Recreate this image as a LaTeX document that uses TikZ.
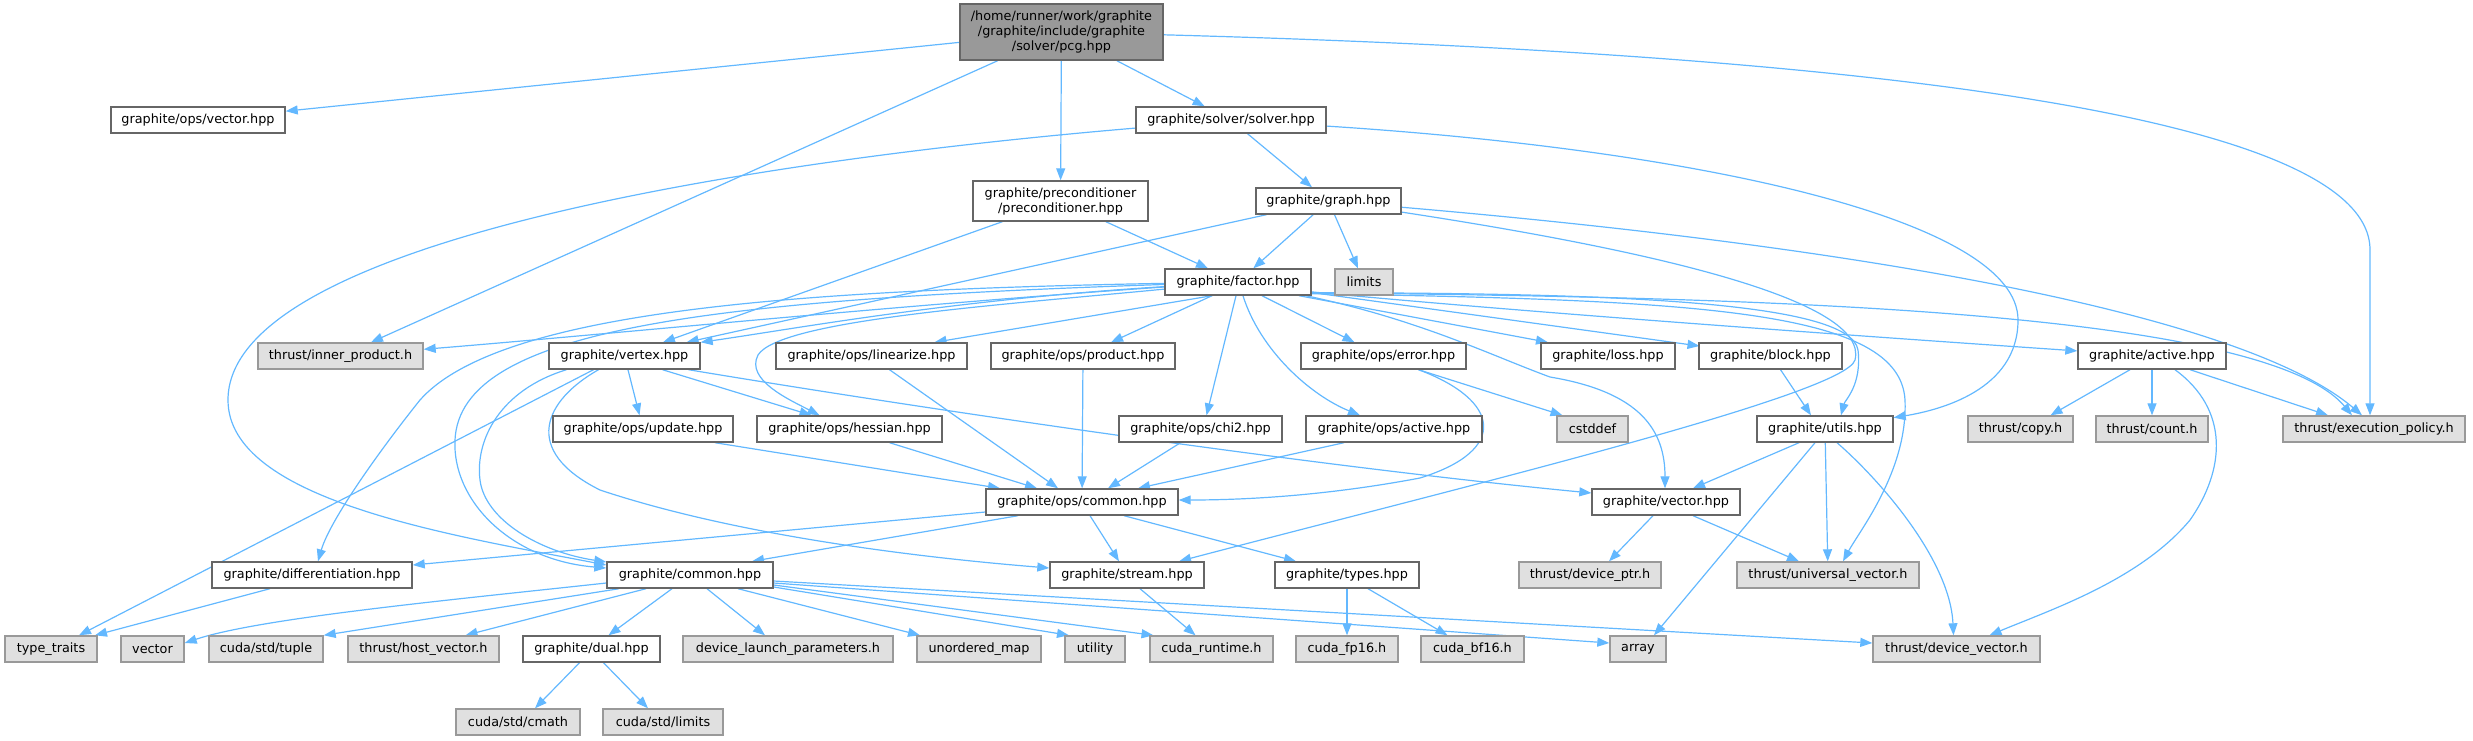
\documentclass[tikz,border=0pt]{standalone}
\usepackage{fontspec}
\setmainfont{DejaVu Sans}
\usetikzlibrary{arrows.meta}
\pgfdeclarelayer{bg}
\pgfsetlayers{bg,main}
\definecolor{edgec}{HTML}{63B8FF}
\definecolor{bordc}{HTML}{666666}
\definecolor{extfill}{HTML}{E0E0E0}
\definecolor{extbord}{HTML}{999999}
\definecolor{rootfill}{HTML}{999999}
\tikzset{
  wnode/.style={draw=bordc, line width=1.4pt, fill=white, inner sep=0pt, minimum height=26pt,
    font=\fontsize{12.8}{15}\selectfont, text=black, align=center},
  ext/.style={wnode, draw=extbord, fill=extfill},
  root/.style={wnode, fill=rootfill},
  edge/.style={draw=edgec, line width=1.2pt, -{Triangle[length=12pt,width=9pt]}},
}
\begin{document}
\begin{tikzpicture}[x=1pt,y={(0pt,-1pt)}]
\useasboundingbox (0,0) rectangle (2473,740);
% row 0
\node[root, minimum width=203pt, minimum height=56pt] (pcg) at (1061.5,32) {/home/runner/work/graphite\\/graphite/include/graphite\\/solver/pcg.hpp};
% row 1
\node[wnode, minimum width=174pt] (opsvector) at (198,120) {graphite/ops/vector.hpp};
\node[wnode, minimum width=190pt] (solver) at (1231,120) {graphite/solver/solver.hpp};
% row 2
\node[wnode, minimum width=175pt, minimum height=40pt] (precond) at (1060.5,201) {graphite/preconditioner\\/preconditioner.hpp};
\node[wnode, minimum width=145pt] (graph) at (1328.5,201) {graphite/graph.hpp};
% row 3
\node[wnode, minimum width=146pt] (factor) at (1238,282) {graphite/factor.hpp};
\node[ext, minimum width=58pt] (limits) at (1364,282) {limits};
% row 4
\node[ext, minimum width=165pt] (innerprod) at (340.5,356) {thrust/inner\_product.h};
\node[wnode, minimum width=151pt] (vertex) at (624.5,356) {graphite/vertex.hpp};
\node[wnode, minimum width=191pt] (linearize) at (871.5,356) {graphite/ops/linearize.hpp};
\node[wnode, minimum width=184pt] (product) at (1083,356) {graphite/ops/product.hpp};
\node[wnode, minimum width=165pt] (error) at (1383.5,356) {graphite/ops/error.hpp};
\node[wnode, minimum width=134pt] (loss) at (1608,356) {graphite/loss.hpp};
\node[wnode, minimum width=143pt] (block) at (1770.5,356) {graphite/block.hpp};
\node[wnode, minimum width=148pt] (active) at (2152,356) {graphite/active.hpp};
% row 5
\node[wnode, minimum width=180pt] (update) at (643,429) {graphite/ops/update.hpp};
\node[wnode, minimum width=185pt] (hessian) at (849.5,429) {graphite/ops/hessian.hpp};
\node[wnode, minimum width=163pt] (chi2) at (1200.5,429) {graphite/ops/chi2.hpp};
\node[wnode, minimum width=176pt] (opsactive) at (1394,429) {graphite/ops/active.hpp};
\node[ext, minimum width=71pt] (cstddef) at (1592.5,429) {cstddef};
\node[wnode, minimum width=136pt] (utils) at (1825,429) {graphite/utils.hpp};
\node[ext, minimum width=105pt] (copy) at (2020.5,429) {thrust/copy.h};
\node[ext, minimum width=112pt] (count) at (2152,429) {thrust/count.h};
\node[ext, minimum width=182pt] (execpol) at (2374,429) {thrust/execution\_policy.h};
% row 6
\node[wnode, minimum width=192pt] (opscommon) at (1082,502) {graphite/ops/common.hpp};
\node[wnode, minimum width=148pt] (gvector) at (1666,502) {graphite/vector.hpp};
% row 7
\node[wnode, minimum width=200pt] (diff) at (312,575) {graphite/differentiation.hpp};
\node[wnode, minimum width=166pt] (common) at (690,575) {graphite/common.hpp};
\node[wnode, minimum width=154pt] (stream) at (1127,575) {graphite/stream.hpp};
\node[wnode, minimum width=144pt] (types) at (1347,575) {graphite/types.hpp};
\node[ext, minimum width=142pt] (deviceptr) at (1590,575) {thrust/device\_ptr.h};
\node[ext, minimum width=182pt] (univec) at (1828,575) {thrust/universal\_vector.h};
% row 8
\node[ext, minimum width=92pt] (typetraits) at (51,649) {type\_traits};
\node[ext, minimum width=63pt] (vector) at (152.5,649) {vector};
\node[ext, minimum width=114pt] (tuple) at (266,649) {cuda/std/tuple};
\node[ext, minimum width=151pt] (hostvec) at (423.5,649) {thrust/host\_vector.h};
\node[wnode, minimum width=137pt] (dual) at (591.5,649) {graphite/dual.hpp};
\node[ext, minimum width=210pt] (dlp) at (788,649) {device\_launch\_parameters.h};
\node[ext, minimum width=124pt] (umap) at (979,649) {unordered\_map};
\node[ext, minimum width=60pt] (utility) at (1095,649) {utility};
\node[ext, minimum width=123pt] (cudart) at (1211.5,649) {cuda\_runtime.h};
\node[ext, minimum width=102pt] (fp16) at (1347,649) {cuda\_fp16.h};
\node[ext, minimum width=103pt] (bf16) at (1472.5,649) {cuda\_bf16.h};
\node[ext, minimum width=56pt] (array) at (1638,649) {array};
\node[ext, minimum width=167pt] (devvec) at (1956.5,649) {thrust/device\_vector.h};
% row 9
\node[ext, minimum width=124pt] (cmath) at (518,722) {cuda/std/cmath};
\node[ext, minimum width=120pt] (stdlimits) at (663,722) {cuda/std/limits};

\begin{pgfonlayer}{bg}
% ---- edges: pcg
\draw[edge] (pcg) -- (opsvector);
\draw[edge] (pcg) -- (innerprod);
\draw[edge] (pcg) -- (precond);
\draw[edge] (pcg) -- (solver);
\draw[edge] (pcg) .. controls (1900,55) and (2370,120) .. (2370,250) -- ([shift={(-4,0)}]execpol.north);
% solver
\draw[edge] (solver) .. controls (700,165) and (228,250) .. (228,400) .. controls (228,500) and (450,535) .. ([shift={(0,-10)}]common.west);
\draw[edge] (solver) -- (graph);
\draw[edge] (solver) .. controls (1700,150) and (2018,220) .. (2018,320) .. controls (2018,390) and (1940,410) .. (utils);
% preconditioner
\draw[edge] (precond) -- (vertex);
\draw[edge] (precond) -- (factor);
% graph
\draw[edge] (graph) -- (factor);
\draw[edge] (graph) -- (limits);
\draw[edge] (graph) -- (vertex);
\draw[edge] (graph) .. controls (1900,250) and (2250,320) .. ([shift={(-12,0)}]execpol.north);
\draw[edge] (graph) .. controls (1650,250) and (1870,300) .. (1855,360) .. controls (1845,395) and (1450,490) .. (stream);
% factor
\draw[edge] (factor) .. controls (900,305) and (600,335) .. (innerprod);
\draw[edge] (factor) .. controls (950,300) and (800,328) .. (vertex.north east);
\draw[edge] ([shift={(-26,0)}]factor.south) -- ([shift={(63,0)}]linearize.north);
\draw[edge] ([shift={(-26,0)}]factor.south) -- ([shift={(28,0)}]product.north);
\draw[edge] ([shift={(-2,0)}]factor.south) -- ([shift={(6,0)}]chi2.north);
\draw[edge] ([shift={(5,0)}]factor.south) .. controls (1260,350) and (1310,395) .. ([shift={(-34,0)}]opsactive.north);
\draw[edge] ([shift={(24,0)}]factor.south) -- ([shift={(-29,0)}]error.north);
\draw[edge] ([shift={(61,0)}]factor.south) -- ([shift={(-60,0)}]loss.north);
\draw[edge] ([shift={(70,10)}]factor.center) -- ([shift={(-71,-10)}]block.center);
\draw[edge] ([shift={(-2,-4)}]factor.south east) .. controls (1500,310) and (1800,332) .. (active);
\draw[edge] ([shift={(-2,-3)}]factor.south east) .. controls (1700,297) and (2260,305) .. ([shift={(-22,0)}]execpol.north);
\draw[edge] ([shift={(-2,-3)}]factor.south east) .. controls (1600,293) and (1850,300) .. (1858,350) .. controls (1862,385) and (1845,400) .. ([shift={(16,0)}]utils.north);
\draw[edge] ([shift={(-2,-2)}]factor.south east) .. controls (1700,300) and (1900,310) .. (1905,400) .. controls (1908,470) and (1860,530) .. ([shift={(15,0)}]univec.north);
\draw[edge] ([shift={(68,0)}]factor.south) .. controls (1420,320) and (1490,355) .. (1550,377) .. controls (1640,392) and (1665,430) .. ([shift={(-1,0)}]gvector.north);
\draw[edge] (factor) .. controls (1000,305) and (780,320) .. (758,355) .. controls (745,380) and (790,400) .. ([shift={(-30,0)}]hessian.north);
\draw[edge] (factor) .. controls (800,290) and (500,310) .. (420,400) .. controls (380,450) and (330,520) .. ([shift={(6,0)}]diff.north);
\draw[edge] (factor) .. controls (700,300) and (460,330) .. (455,440) .. controls (452,500) and (510,560) .. ([shift={(0,-7)}]common.west);
% vertex
\draw[edge] ([shift={(-58,0)}]vertex.south) .. controls (500,390) and (475,440) .. (480,480) .. controls (485,520) and (540,552) .. ([shift={(0,-13)}]common.west);
\draw[edge] ([shift={(-31,0)}]vertex.south) -- ([shift={(28,0)}]typetraits.north);
\draw[edge] ([shift={(-26,0)}]vertex.south) .. controls (545,400) and (520,450) .. (600,490) .. controls (750,540) and (950,560) .. ([shift={(0,-7)}]stream.west);
\draw[edge] (vertex) -- (update);
\draw[edge] ([shift={(38,0)}]vertex.south) -- ([shift={(-38,0)}]hessian.north);
\draw[edge] ([shift={(64,0)}]vertex.south) .. controls (900,405) and (1300,465) .. ([shift={(0,-9)}]gvector.west);
% ops
\draw[edge] ([shift={(18,0)}]linearize.south) -- ([shift={(-24,0)}]opscommon.north);
\draw[edge] (product) -- (opscommon);
\draw[edge] ([shift={(-20,0)}]chi2.south) -- ([shift={(26,0)}]opscommon.north);
\draw[edge] ([shift={(-50,0)}]opsactive.south) -- ([shift={(56,0)}]opscommon.north);
\draw[edge] ([shift={(40,0)}]hessian.south) -- ([shift={(-45,0)}]opscommon.north);
\draw[edge] ([shift={(72,0)}]update.south) -- ([shift={(-82,0)}]opscommon.north);
\draw[edge] ([shift={(35,0)}]error.south) .. controls (1500,400) and (1510,450) .. (1420,478) .. controls (1330,495) and (1250,500) .. ([shift={(0,-2)}]opscommon.east);
\draw[edge] ([shift={(35,0)}]error.south) -- ([shift={(-30,0)}]cstddef.north);
\draw[edge] ([shift={(10,0)}]block.south) -- ([shift={(-14,0)}]utils.north);
% active
\draw[edge] ([shift={(-22,0)}]active.south) -- ([shift={(30,0)}]copy.north);
\draw[edge] (active) -- (count);
\draw[edge] ([shift={(38,0)}]active.south) -- ([shift={(-46,0)}]execpol.north);
\draw[edge] ([shift={(23,0)}]active.south) .. controls (2230,410) and (2225,470) .. (2190,520) .. controls (2140,580) and (2050,610) .. ([shift={(33,0)}]devvec.north);
% utils
\draw[edge] ([shift={(-26,0)}]utils.south) -- ([shift={(27,0)}]gvector.north);
\draw[edge] (utils) -- (univec);
\draw[edge] ([shift={(12,0)}]utils.south) .. controls (1880,480) and (1950,560) .. ([shift={(-3,0)}]devvec.north);
\draw[edge] ([shift={(-10,0)}]utils.south) -- ([shift={(16,0)}]array.north);
% graphite vector
\draw[edge] ([shift={(-13,0)}]gvector.south) -- ([shift={(19,0)}]deviceptr.north);
\draw[edge] ([shift={(27,0)}]gvector.south) -- ([shift={(-29,0)}]univec.north);
% ops common
\draw[edge] ([shift={(0,10)}]opscommon.west) -- ([shift={(0,-10)}]diff.east);
\draw[edge] ([shift={(-64,0)}]opscommon.south) -- ([shift={(62,0)}]common.north);
\draw[edge] ([shift={(8,0)}]opscommon.south) -- ([shift={(-8,0)}]stream.north);
\draw[edge] ([shift={(42,0)}]opscommon.south) -- ([shift={(-51,0)}]types.north);
% differentiation
\draw[edge] ([shift={(-42,0)}]diff.south) -- ([shift={(44,0)}]typetraits.north);
% common
\draw[edge] ([shift={(0,8)}]common.west) .. controls (450,600) and (260,618) .. ([shift={(0,-6)}]vector.east);
\draw[edge] ([shift={(-71,0)}]common.south) -- (tuple.north east);
\draw[edge] ([shift={(-44,0)}]common.south) -- ([shift={(42,0)}]hostvec.north);
\draw[edge] ([shift={(-18,0)}]common.south) -- ([shift={(17,0)}]dual.north);
\draw[edge] ([shift={(17,0)}]common.south) -- ([shift={(-23,0)}]dlp.north);
\draw[edge] ([shift={(48,0)}]common.south) -- ([shift={(-59,0)}]umap.north);
\draw[edge] ([shift={(0,12)}]common.east) -- ([shift={(-26,0)}]utility.north);
\draw[edge] ([shift={(0,10)}]common.east) -- ([shift={(-58,0)}]cudart.north);
\draw[edge] ([shift={(0,8)}]common.east) -- ([shift={(0,-6)}]array.west);
\draw[edge] ([shift={(0,6)}]common.east) -- ([shift={(0,-6)}]devvec.west);
% others
\draw[edge] ([shift={(13,0)}]stream.south) -- ([shift={(-16,0)}]cudart.north);
\draw[edge] (types) -- (fp16);
\draw[edge] ([shift={(21,0)}]types.south) -- ([shift={(-25,0)}]bf16.north);
\draw[edge] ([shift={(-12,0)}]dual.south) -- ([shift={(17,0)}]cmath.north);
\draw[edge] ([shift={(12,0)}]dual.south) -- ([shift={(-15,0)}]stdlimits.north);
\end{pgfonlayer}
\end{tikzpicture}
\end{document}
